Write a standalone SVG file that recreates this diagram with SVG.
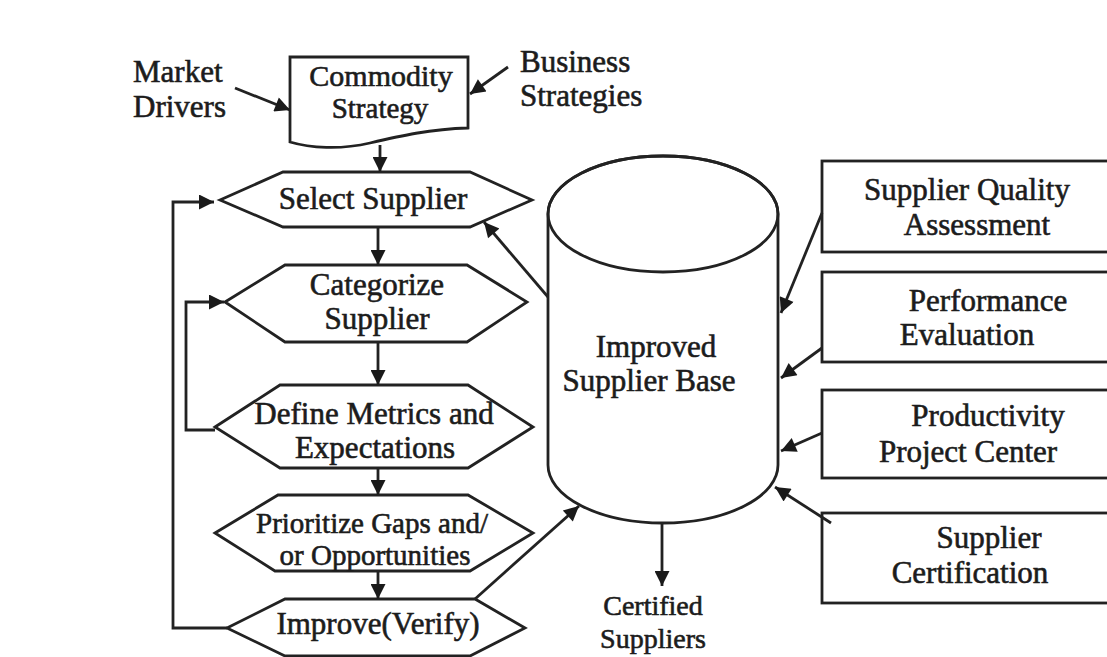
<svg xmlns="http://www.w3.org/2000/svg" width="1107" height="657" viewBox="0 0 1107 657">
<style>
.t{font-family:"Liberation Serif","Times New Roman",serif;font-size:31px;fill:#1c1c1c;stroke:#1c1c1c;stroke-width:0.6px}
.c{text-anchor:middle}
.s{fill:#fff;stroke:#222;stroke-width:2.8;stroke-linejoin:miter}
.l{fill:none;stroke:#222;stroke-width:2.8}
.a{fill:none;stroke:#222;stroke-width:2.8;marker-end:url(#ah)}
</style>
<defs>
<marker id="ah" viewBox="0 0 10 10" refX="10" refY="5" markerWidth="17" markerHeight="15" markerUnits="userSpaceOnUse" orient="auto">
<path d="M0,0 L10,5 L0,10 Z" fill="#1a1a1a"/>
</marker>
</defs>
<rect width="1107" height="657" fill="#fff"/>

<g id="commodity">
<path class="s" d="M290,57 H468 V128 C430,129 400,136 370,143 C340,150 310,148 290,142 Z"/>
<text class="t c" x="381" y="86" style="font-size:30px">Commodity</text>
<text class="t c" x="380" y="118" style="font-size:29px">Strategy</text>
</g>
<g id="market-drivers">
<text class="t" x="133" y="82">Market</text>
<text class="t" x="133" y="117">Drivers</text>
</g>
<g id="business-strategies">
<text class="t" x="520" y="72">Business</text>
<text class="t" x="520" y="106">Strategies</text>
</g>

<g id="select-supplier">
<polygon class="s" points="220,200 283,172 470,172 532,200 470,227 283,227"/>
<text class="t c" x="373" y="209">Select Supplier</text>
</g>
<g id="categorize-supplier">
<polygon class="s" points="225,302 285,265 467,265 527,302 467,342 285,342"/>
<text class="t c" x="377" y="295">Categorize</text>
<text class="t c" x="377" y="329">Supplier</text>
</g>
<g id="define-metrics">
<polygon class="s" points="215,427 280,385 468,385 533,427 468,468 280,468"/>
<text class="t c" x="374" y="424">Define Metrics and</text>
<text class="t c" x="375" y="458">Expectations</text>
</g>
<g id="prioritize-gaps">
<polygon class="s" points="215,533 278,495 468,495 533,533 470,571 275,571"/>
<text class="t c" x="372" y="533" style="font-size:29px">Prioritize Gaps and/</text>
<text class="t c" x="375" y="565" style="font-size:29px">or Opportunities</text>
</g>
<g id="improve-verify">
<polygon class="s" points="227,628 285,599 475,599 525,628 470,656 285,656"/>
<text class="t c" x="378" y="634">Improve(Verify)</text>
</g>

<g id="improved-supplier-base">
<path class="s" d="M548,214 V465 A115,58 0 0 0 778,465 V214 A115,58 0 0 0 548,214 Z"/>
<ellipse class="l" cx="663" cy="214" rx="115" ry="58"/>
<text class="t c" x="656" y="357">Improved</text>
<text class="t c" x="649" y="391">Supplier Base</text>
</g>

<g id="certified-suppliers">
<text class="t c" x="653" y="615" style="font-size:28px">Certified</text>
<text class="t c" x="653" y="648" style="font-size:28px">Suppliers</text>
</g>

<g id="supplier-quality-assessment">
<rect class="s" x="822" y="161" width="300" height="91"/>
<text class="t c" x="967" y="200">Supplier Quality</text>
<text class="t c" x="977" y="235">Assessment</text>
</g>
<g id="performance-evaluation">
<rect class="s" x="822" y="272" width="300" height="90"/>
<text class="t c" x="988" y="311">Performance</text>
<text class="t c" x="967" y="345">Evaluation</text>
</g>
<g id="productivity-project-center">
<rect class="s" x="822" y="390" width="300" height="88"/>
<text class="t c" x="988" y="426">Productivity</text>
<text class="t c" x="968" y="462">Project Center</text>
</g>
<g id="supplier-certification">
<rect class="s" x="822" y="513" width="300" height="90"/>
<text class="t c" x="989" y="548">Supplier</text>
<text class="t c" x="970" y="583">Certification</text>
</g>

<g id="connectors">
<line class="a" x1="235" y1="88" x2="290" y2="110"/>
<line class="a" x1="508" y1="67" x2="470" y2="94"/>
<line class="a" x1="380" y1="145" x2="380" y2="172"/>
<line class="a" x1="378" y1="227" x2="378" y2="265"/>
<line class="a" x1="378" y1="342" x2="378" y2="385"/>
<line class="a" x1="378" y1="468" x2="378" y2="495"/>
<line class="a" x1="378" y1="571" x2="378" y2="599"/>
<polyline class="a" points="227,628 173,628 173,202 214,202"/>
<polyline class="a" points="215,430 186,430 186,302 224,302"/>
<line class="a" x1="548" y1="297" x2="484" y2="222"/>
<line class="a" x1="475" y1="599" x2="579" y2="506"/>
<line class="a" x1="662" y1="523" x2="662" y2="586"/>
<line class="a" x1="822" y1="213" x2="781" y2="313"/>
<line class="a" x1="822" y1="348" x2="781" y2="378"/>
<line class="a" x1="822" y1="433" x2="781" y2="451"/>
<line class="a" x1="831" y1="523" x2="775" y2="487"/>
</g>
</svg>
